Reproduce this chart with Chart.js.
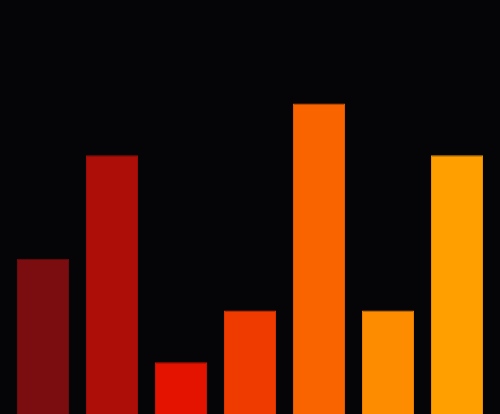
<!DOCTYPE html>
<html>
<head>
<meta charset="utf-8">
<script src="https://cdn.jsdelivr.net/npm/chart.js@4/dist/chart.umd.min.js"></script>
<style>
  html, body { margin: 0; padding: 0; background: #050407; }
  #wrap { width: 500px; height: 414px; }
</style>
</head>
<body>
<div id="wrap"><canvas id="chart"></canvas></div>
<script>
// dados das barras
const categorias = ['A', 'B', 'C', 'D', 'E', 'F', 'G'];
const valores = [3, 5, 1, 2, 6, 2, 5];
const cores = ['#7b0d10', '#ad0f08', '#e31300', '#ef3b00', '#f96400', '#fe8c00', '#ffa000'];
const bordas = ['#6e0b0e', '#9c0d07', '#cc1100', '#d93500', '#e05a00', '#e57e00', '#e69000'];

new Chart(document.getElementById('chart'), {
  type: 'bar',
  data: {
    labels: categorias,
    datasets: [{
      data: valores,
      backgroundColor: cores,
      borderColor: bordas,
      borderWidth: 1,
      barPercentage: 0.754,
      categoryPercentage: 1
    }]
  },
  options: {
    responsive: true,
    maintainAspectRatio: false,
    animation: false,
    layout: { padding: { left: 8.5, right: 8.5, top: 0, bottom: 0 } },
    plugins: { legend: { display: false }, tooltip: { enabled: false } },
    scales: {
      x: { display: false },
      y: { display: false, min: 0, max: 8 }
    }
  }
});
</script>
</body>
</html>
